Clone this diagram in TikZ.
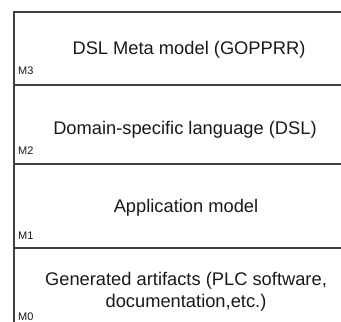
\documentclass[tikz,border=0pt]{standalone}
\usepackage{fontspec}
\setmainfont{Liberation Sans}
\begin{document}
\begin{tikzpicture}[x=1pt,y=-1pt,
  rule/.style={draw=black!75,line width=1.1pt},
  title/.style={font=\fontsize{18.3}{22.5}\selectfont,align=center,text=black!90,inner sep=0pt},
  lvl/.style={font=\fontsize{11}{12}\selectfont,anchor=west,text=black!90,inner sep=0pt}]
\useasboundingbox (0,0) rectangle (341,322);
\coordinate (tl) at (14,12);
\coordinate (tr) at (341,12);
\coordinate (bl) at (14,322);
\coordinate (l1l) at (14,85);  \coordinate (l1r) at (341,85);
\coordinate (l2l) at (14,164); \coordinate (l2r) at (341,164);
\coordinate (l3l) at (14,248); \coordinate (l3r) at (341,248);
\draw[rule] (tr) -- (tl) -- (bl);
\draw[rule] (l1l) -- (l1r);
\draw[rule] (l2l) -- (l2r);
\draw[rule] (l3l) -- (l3r);
\node[title] (t3) at (189,50) {DSL Meta model (GOPPRR)};
\node[title] (t2) at (185,130) {Domain-specific language (DSL)};
\node[title] (t1) at (186,208) {Application model};
\node[title] (t0) at (186,292) {Generated artifacts (PLC software,\\documentation,etc.)};
\node[lvl] (m3) at (18,71) {M3};
\node[lvl] (m2) at (18,151) {M2};
\node[lvl] (m1) at (18,236) {M1};
\node[lvl] (m0) at (18,317) {M0};
\end{tikzpicture}
\end{document}
